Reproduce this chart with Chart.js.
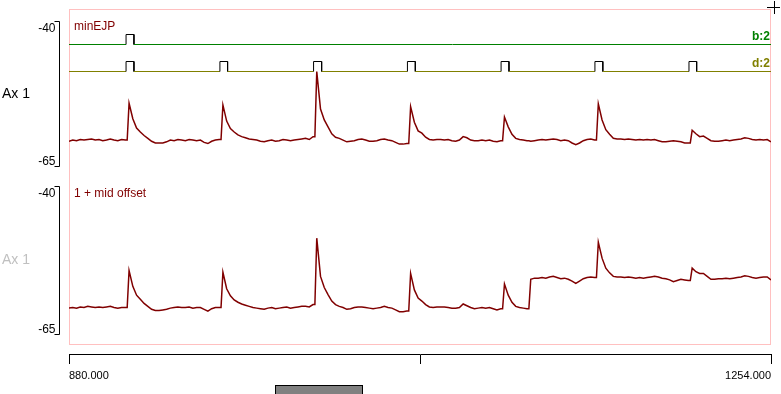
<!DOCTYPE html>
<html>
<head>
<meta charset="utf-8">
<script src="https://cdn.jsdelivr.net/npm/chart.js@4.4.1/dist/chart.umd.min.js"></script>
<style>
  html, body { margin: 0; padding: 0; background: #fff; }
  #wrap { position: relative; width: 781px; height: 394px; }
</style>
</head>
<body>
<div id="wrap"><canvas id="myChart" width="781" height="394"></canvas></div>
<script>
// sample times (s) - extra samples just before each rise
const times = [
  880, 882, 884, 886, 888, 890, 892, 894, 896, 898,
  900, 902, 904, 906, 908, 910, 911, 912, 914, 916, 918,
  920, 922, 924, 926, 928, 930, 932, 934, 936, 938,
  940, 942, 944, 946, 948, 950, 952, 954, 956, 958,
  960, 961, 962, 964, 966, 968, 970, 972, 974, 976, 978,
  980, 982, 984, 986, 988, 990, 992, 994, 996, 998,
  1000, 1002, 1004, 1006, 1008, 1010, 1011, 1012, 1014, 1016, 1018,
  1020, 1022, 1024, 1026, 1028, 1030, 1032, 1034, 1036, 1038,
  1040, 1042, 1044, 1046, 1048, 1050, 1052, 1054, 1056, 1058,
  1060, 1061, 1062, 1064, 1066, 1068, 1070, 1072, 1074, 1076, 1078,
  1080, 1082, 1084, 1086, 1088, 1090, 1092, 1094, 1096, 1098,
  1100, 1102, 1104, 1106, 1108, 1110, 1111, 1112, 1114, 1116, 1118,
  1120, 1122, 1124, 1125, 1126, 1128, 1130, 1132, 1134, 1136, 1138,
  1140, 1142, 1144, 1146, 1148, 1150, 1152, 1154, 1156, 1158,
  1160, 1161, 1162, 1164, 1166, 1168, 1170, 1172, 1174, 1176, 1178,
  1180, 1182, 1184, 1186, 1188, 1190, 1192, 1194, 1196, 1198,
  1200, 1202, 1204, 1206, 1208, 1210, 1211, 1212, 1214, 1216, 1218,
  1220, 1222, 1224, 1226, 1228, 1230, 1232, 1234, 1236, 1238,
  1240, 1242, 1244, 1246, 1248, 1250, 1252, 1254
];

// minEJP trace (mV)
const topTrace = [
  -60.7, -60.5, -60.6, -60.4, -60.5, -60.4, -60.3, -60.5, -60.4, -60.6,
  -60.5, -60.3, -60.5, -60.6, -60.4, -60.5, -60.5, -54.1, -56.8, -58.4, -59.1,
  -59.7, -60.2, -60.7, -61.0, -61.0, -61.0, -60.8, -60.5, -60.6, -60.4,
  -60.5, -60.6, -60.4, -60.5, -60.6, -60.5, -60.9, -61.1, -60.7, -60.5,
  -60.4, -60.4, -54.4, -57.2, -58.5, -59.1, -59.6, -59.9, -60.1, -60.3, -60.4,
  -60.5, -60.7, -60.8, -60.6, -60.5, -60.7, -60.6, -60.4, -60.5, -60.6,
  -60.5, -60.4, -60.3, -60.2, -60.4, -59.9, -59.9, -48.6, -55.1, -57.0, -58.2,
  -59.4, -60.0, -60.2, -60.5, -60.8, -60.7, -60.6, -60.4, -60.3, -60.5,
  -60.7, -60.7, -60.6, -60.4, -60.3, -60.5, -60.6, -60.9, -61.2, -61.2,
  -61.1, -61.1, -54.7, -57.4, -58.9, -59.3, -60.0, -60.4, -60.5, -60.4, -60.4,
  -60.5, -60.4, -60.6, -60.7, -60.5, -59.9, -60.1, -60.5, -60.6, -60.6,
  -60.5, -60.6, -60.5, -60.7, -60.8, -60.6, -60.6, -56.5, -58.2, -59.5, -60.2,
  -60.4, -60.5, -60.6, -60.6, -60.7, -60.6, -60.5, -60.4, -60.5, -60.4, -60.3,
  -60.4, -60.6, -60.5, -60.6, -61.0, -61.3, -61.0, -60.6, -60.4, -60.3,
  -60.5, -60.5, -54.2, -57.0, -58.7, -59.5, -60.2, -60.3, -60.3, -60.4, -60.3,
  -60.4, -60.5, -60.4, -60.5, -60.4, -60.5, -60.4, -60.6, -60.8, -60.8,
  -60.7, -60.6, -60.7, -60.8, -61.0, -61.0, -61.0, -58.8, -59.4, -59.9, -59.8,
  -60.2, -60.6, -60.7, -60.7, -60.6, -60.5, -60.6, -60.5, -60.4, -60.3,
  -60.1, -60.2, -60.4, -60.5, -60.4, -60.5, -60.4, -60.8
];

// "1 + mid offset" trace (mV)
const offsetTrace = [
  -60.6, -60.5, -60.6, -60.4, -60.5, -60.3, -60.4, -60.5, -60.4, -60.5,
  -60.4, -60.3, -60.5, -60.6, -60.5, -60.5, -60.5, -54.2, -56.9, -58.4, -59.1,
  -59.8, -60.3, -60.8, -61.0, -61.0, -60.9, -60.8, -60.6, -60.5, -60.4,
  -60.5, -60.5, -60.4, -60.6, -60.5, -60.5, -60.8, -61.1, -60.7, -60.5,
  -60.5, -60.5, -54.5, -57.3, -58.5, -59.2, -59.6, -59.9, -60.1, -60.3, -60.5,
  -60.6, -60.7, -60.8, -60.6, -60.5, -60.7, -60.6, -60.5, -60.4, -60.6,
  -60.5, -60.4, -60.3, -60.3, -60.4, -60.0, -60.0, -48.7, -55.2, -57.1, -58.3,
  -59.4, -60.0, -60.3, -60.5, -60.8, -60.7, -60.5, -60.4, -60.4, -60.5,
  -60.6, -60.7, -60.6, -60.5, -60.3, -60.5, -60.6, -60.9, -61.2, -61.2,
  -61.1, -61.1, -54.7, -57.5, -58.9, -59.4, -60.0, -60.4, -60.5, -60.4, -60.4,
  -60.4, -60.5, -60.6, -60.6, -60.5, -59.9, -60.2, -60.5, -60.7, -60.6,
  -60.5, -60.6, -60.5, -60.7, -60.9, -60.7, -60.7, -56.5, -58.4, -59.6, -60.3,
  -60.5, -60.6, -60.7, -60.7, -55.7, -55.5, -55.5, -55.4, -55.5, -55.3, -55.2,
  -55.4, -55.6, -55.5, -55.7, -56.0, -56.4, -56.0, -55.6, -55.4, -55.3,
  -55.4, -55.4, -49.4, -52.1, -53.8, -54.6, -55.2, -55.3, -55.3, -55.4, -55.3,
  -55.4, -55.5, -55.4, -55.5, -55.4, -55.3, -55.2, -55.3, -55.5, -55.6,
  -55.8, -56.1, -55.9, -55.7, -55.8, -55.9, -55.9, -53.8, -54.4, -54.7, -54.7,
  -55.2, -55.7, -55.7, -55.6, -55.6, -55.5, -55.6, -55.5, -55.4, -55.3,
  -55.1, -55.2, -55.4, -55.5, -55.4, -55.3, -55.3, -55.8
];

// event channels: pulse start / end times (s)
const bStarts = [910.4];
const bEnds = [914.6];
const dStarts = [910.4, 960.4, 1010.3, 1060.3, 1110.2, 1160.2, 1210.3];
const dEnds = [914.6, 964.5, 1014.6, 1064.5, 1114.4, 1164.4, 1214.4];

const xTicks = [880, 1067, 1254];
const yTicks = [-40, -65];
const channelTitles = ['minEJP', '1 + mid offset'];
const axisTitles = ['Ax 1', 'Ax 1'];
const eventNames = ['b:2', 'd:2'];

const FONT = '"Liberation Sans", Arial, sans-serif';

// turn start/end lists into a square pulse line
function pulseLine(starts, ends) {
    let pts = [{ x: 880, y: 0 }];
    for (let i = 0; i < starts.length; i++) {
        pts.push({ x: starts[i], y: 0 }, { x: starts[i], y: 1 });
        pts.push({ x: ends[i], y: 1 }, { x: ends[i], y: 0 });
    }
    pts.push({ x: 1254, y: 0 });
    return pts;
}

function pulseColor(base) {
    return c => (c.p0.parsed.y > 0 || c.p1.parsed.y > 0) ? '#000000' : base;
}

const spikeDecor = {
    id: 'spikeDecor',
    beforeDatasetsDraw(chart) {
        const { ctx, chartArea: a, scales } = chart;
        const bottom = Math.round(scales.y2.getPixelForValue(yTicks[1])) + 10;
        ctx.save();
        ctx.strokeStyle = '#ffc0c0';
        ctx.lineWidth = 1;
        ctx.strokeRect(a.left + 0.5, a.top + 0.5, a.right - a.left - 1, bottom - a.top);
        ctx.restore();
    },
    afterDraw(chart) {
        const { ctx, chartArea: a, scales } = chart;
        ctx.save();
        ctx.lineWidth = 1;
        ctx.strokeStyle = '#000';

        // y axis brackets for both panels
        ['y1', 'y2'].forEach((id, k) => {
            const s = scales[id];
            const t = Math.round(s.getPixelForValue(yTicks[0])) - 0.5;
            const b = Math.round(s.getPixelForValue(yTicks[1])) + 0.5;
            const bx = a.left - 9.5;
            ctx.beginPath();
            ctx.moveTo(bx - 5, t);
            ctx.lineTo(bx, t);
            ctx.lineTo(bx, b);
            ctx.lineTo(bx - 5, b);
            ctx.stroke();

            ctx.fillStyle = '#000';
            ctx.font = '12px ' + FONT;
            ctx.textAlign = 'right';
            ctx.textBaseline = 'middle';
            ctx.fillText(String(yTicks[0]), bx - 4, t + 7);
            ctx.fillText(String(yTicks[1]), bx - 4, b - 5);

            ctx.font = '14px ' + FONT;
            ctx.textAlign = 'left';
            ctx.fillStyle = k === 0 ? '#000000' : '#c0c0c0';
            ctx.fillText(axisTitles[k], 2, (t + b) / 2);

            ctx.font = '12px ' + FONT;
            ctx.fillStyle = '#800000';
            ctx.fillText(channelTitles[k], a.left + 5, t + (k === 0 ? 5 : 7.5));
        });

        // event channel names
        ctx.font = 'bold 12px ' + FONT;
        ctx.textAlign = 'right';
        ctx.textBaseline = 'middle';
        ctx.fillStyle = '#008000';
        ctx.fillText(eventNames[0], a.right - 1, scales.yb.getPixelForValue(0) - 7.5);
        ctx.fillStyle = '#808000';
        ctx.fillText(eventNames[1], a.right - 1, scales.yd.getPixelForValue(0) - 7.5);

        // cursor cross, top right
        ctx.strokeStyle = '#000';
        ctx.beginPath();
        ctx.moveTo(767, 7.5); ctx.lineTo(780, 7.5);
        ctx.moveTo(774.5, 1); ctx.lineTo(774.5, 14);
        ctx.stroke();

        // scroll bar thumb
        ctx.fillStyle = '#808080';
        ctx.fillRect(276, 386, 86, 8);
        ctx.strokeRect(275.5, 385.5, 87, 9);
        ctx.restore();
    }
};

const myChart = new Chart(document.getElementById('myChart'), {
    type: 'line',
    data: {
        datasets: [
            {
                label: eventNames[0],
                data: pulseLine(bStarts, bEnds),
                yAxisID: 'yb',
                borderWidth: 1,
                borderColor: '#008000',
                segment: { borderColor: pulseColor('#008000') }
            },
            {
                label: eventNames[1],
                data: pulseLine(dStarts, dEnds),
                yAxisID: 'yd',
                borderWidth: 1,
                borderColor: '#808000',
                segment: { borderColor: pulseColor('#808000') }
            },
            {
                label: channelTitles[0],
                data: times.map((t, i) => ({ x: t, y: topTrace[i] })),
                yAxisID: 'y1',
                borderWidth: 1.5,
                borderColor: '#800000'
            },
            {
                label: channelTitles[1],
                data: times.map((t, i) => ({ x: t, y: offsetTrace[i] })),
                yAxisID: 'y2',
                borderWidth: 1.5,
                borderColor: '#800000'
            }
        ]
    },
    options: {
        responsive: false,
        animation: false,
        devicePixelRatio: 1,
        layout: { padding: { left: 69, right: 10, top: 9, bottom: 0 } },
        elements: { point: { radius: 0 }, line: { tension: 0 } },
        plugins: { legend: { display: false }, tooltip: { enabled: false } },
        scales: {
            x: {
                type: 'linear',
                min: 880,
                max: 1254,
                afterBuildTicks: axis => { axis.ticks = xTicks.map(v => ({ value: v })); },
                afterFit: axis => { axis.height = 40; },
                border: { display: true, color: '#000', width: 1 },
                grid: { display: true, drawOnChartArea: false, drawTicks: true, tickLength: 10, color: '#000' },
                ticks: {
                    autoSkip: false,
                    maxRotation: 0,
                    align: 'inner',
                    padding: 5,
                    color: '#000',
                    font: { family: FONT, size: 11 },
                    callback: v => (v === 880 || v === 1254) ? v.toFixed(3) : ''
                }
            },
            y1: { type: 'linear', display: false, min: -97.64, max: -37.74 },
            y2: { type: 'linear', display: false, min: -68.40, max: -9.73 },
            yb: { type: 'linear', display: false, min: -30.95, max: 3.55 },
            yd: { type: 'linear', display: false, min: -28.25, max: 6.25 }
        }
    },
    plugins: [spikeDecor]
});
</script>
</body>
</html>
